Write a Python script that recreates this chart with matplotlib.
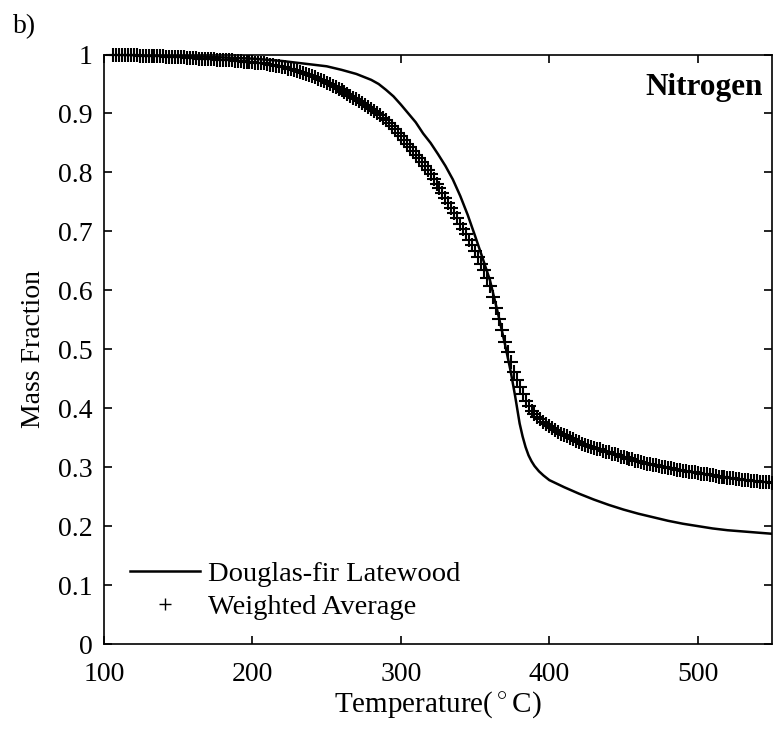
import numpy as np
import matplotlib
matplotlib.use("Agg")
import matplotlib.pyplot as plt
from matplotlib.lines import Line2D

##################################################################################
# DATA
##################################################################################

# Douglas-fir latewood TGA curve (solid line)
df_temp = [100, 120, 140, 160, 180, 200, 220, 240, 250, 260, 270, 280, 285, 290, 295,
           300, 305, 310, 315, 320, 325, 330, 335, 340, 345, 350, 355, 360, 365, 370,
           374, 377, 380, 382, 384, 386, 388, 390, 393, 396, 400, 410, 420, 430, 440,
           450, 460, 470, 480, 490, 500, 510, 520, 530, 540, 550]
df_mass = [1.000, 0.999, 0.998, 0.997, 0.995, 0.993, 0.989, 0.983, 0.980, 0.974,
           0.967, 0.957, 0.950, 0.940, 0.929, 0.915, 0.900, 0.885, 0.866, 0.850,
           0.831, 0.811, 0.788, 0.760, 0.728, 0.692, 0.655, 0.617, 0.565, 0.510,
           0.462, 0.420, 0.374, 0.352, 0.334, 0.320, 0.310, 0.302, 0.293, 0.286,
           0.278, 0.266, 0.255, 0.245, 0.236, 0.228, 0.221, 0.215, 0.209, 0.204,
           0.200, 0.196, 0.193, 0.191, 0.189, 0.187]

# Weighted average (dense '+' markers), sampled every 2 C from 106 to 550
wa_temp = list(range(106, 551, 2))
wa_mass = [
    1.000, 1.000, 1.000, 0.999, 0.999, 0.999, 0.999, 0.999, 0.999, 0.998,
    0.998, 0.998, 0.998, 0.998, 0.997, 0.997, 0.997, 0.997, 0.996, 0.996,
    0.996, 0.995, 0.995, 0.995, 0.995, 0.994, 0.994, 0.994, 0.994, 0.993,
    0.993, 0.993, 0.992, 0.992, 0.992, 0.991, 0.991, 0.991, 0.990, 0.990,
    0.990, 0.989, 0.989, 0.989, 0.988, 0.988, 0.988, 0.987,
    0.986, 0.986, 0.985, 0.985, 0.984,
    0.983, 0.982, 0.981, 0.980, 0.979,
    0.978, 0.976, 0.975, 0.974, 0.972,
    0.970, 0.969, 0.967, 0.965, 0.963,
    0.961, 0.959, 0.957, 0.955, 0.952,
    0.950, 0.947, 0.945, 0.942, 0.939,
    0.936, 0.933, 0.930, 0.927, 0.924,
    0.921, 0.918, 0.914, 0.911, 0.907,
    0.904, 0.900, 0.897, 0.893, 0.889,
    0.884, 0.878, 0.873, 0.867, 0.861,
    0.855, 0.849, 0.843, 0.836, 0.830,
    0.824, 0.817, 0.811, 0.804, 0.797,
    0.789, 0.781, 0.773, 0.765, 0.757,
    0.748, 0.739, 0.731, 0.722, 0.713,
    0.704, 0.695, 0.685, 0.676, 0.666,
    0.656, 0.645, 0.634, 0.621, 0.607,
    0.589, 0.570, 0.551, 0.532, 0.513,
    0.495, 0.478, 0.462, 0.448, 0.436,
    0.424, 0.413, 0.403, 0.396, 0.390,
    0.385, 0.381, 0.377, 0.373, 0.369,
    0.366, 0.363, 0.360, 0.357, 0.354,
    0.352, 0.349, 0.347, 0.344, 0.342,
    0.340, 0.338, 0.336, 0.335, 0.333,
    0.331, 0.330, 0.328, 0.326, 0.325,
    0.323, 0.322, 0.320, 0.318, 0.317,
    0.316, 0.314, 0.313, 0.311, 0.310,
    0.309, 0.307, 0.306, 0.305, 0.304,
    0.303, 0.302, 0.301, 0.300, 0.299,
    0.298, 0.297, 0.296, 0.295, 0.294,
    0.293, 0.292, 0.292, 0.291, 0.290,
    0.289, 0.288, 0.288, 0.287, 0.286,
    0.285, 0.284, 0.284, 0.283, 0.282,
    0.281, 0.281, 0.280, 0.280, 0.279,
    0.278, 0.278, 0.277, 0.277, 0.276,
    0.275, 0.275, 0.274, 0.274, 0.273,
]

x_ticks = [100, 200, 300, 400, 500]
y_ticks = [0, 0.1, 0.2, 0.3, 0.4, 0.5, 0.6, 0.7, 0.8, 0.9, 1]
y_tick_labels = ["0", "0.1", "0.2", "0.3", "0.4", "0.5", "0.6", "0.7", "0.8", "0.9", "1"]

##################################################################################
# PLOT
##################################################################################

plt.rcParams["font.family"] = ["Liberation Serif", "DejaVu Serif"]
plt.rcParams["mathtext.fontset"] = "custom"
plt.rcParams["mathtext.rm"] = "Liberation Serif"

fig = plt.figure(figsize=(7.73, 7.41), dpi=100)
ax = fig.add_axes([104 / 773, 1 - 644 / 741, 668 / 773, (644 - 54.5) / 741])

ax.plot(df_temp, df_mass, color="black", lw=1.8, zorder=3)
ax.plot(wa_temp, wa_mass, ls="none", marker="+", ms=10, mew=1.5, color="black",
        zorder=2, clip_on=False)

ax.set_xlim(100, 550)
ax.set_ylim(0, 1)
ax.set_xticks(x_ticks)
ax.set_yticks(y_ticks)
ax.set_yticklabels(y_tick_labels)
ax.tick_params(direction="in", length=6, width=1.2, top=True, right=True, labelsize=20)
ax.tick_params(axis="x", pad=13)
ax.tick_params(axis="y", pad=8)
for sp in ax.spines.values():
    sp.set_linewidth(1.2)

ax.set_xlabel(r"Temperature($^\circ$C)", fontsize=21)
ax.set_ylabel("Mass Fraction", fontsize=20)
ax.xaxis.set_label_coords(0.5, -0.077)
ax.yaxis.set_label_coords(-0.087, 0.5)

ax.text(0.9865, 0.931, "Nitrogen", transform=ax.transAxes, ha="right", va="baseline",
        fontsize=22.5, fontweight="bold")
fig.text(13 / 773, 1 - 33 / 741, "b)", ha="left", va="baseline", fontsize=20)

handles = [Line2D([0], [0], color="black", lw=1.8),
           Line2D([0], [0], ls="none", marker="+", ms=10, mew=1.0, color="black")]
ax.legend(handles, ["Douglas-fir Latewood", "Weighted Average"], loc="lower left",
          bbox_to_anchor=(0.039, 0.04), frameon=False, fontsize=20.5, borderpad=0,
          borderaxespad=0, handlelength=2.45, handletextpad=0.3, labelspacing=0.28,
          markerscale=0.8)

fig.savefig("out.png", dpi=100)
